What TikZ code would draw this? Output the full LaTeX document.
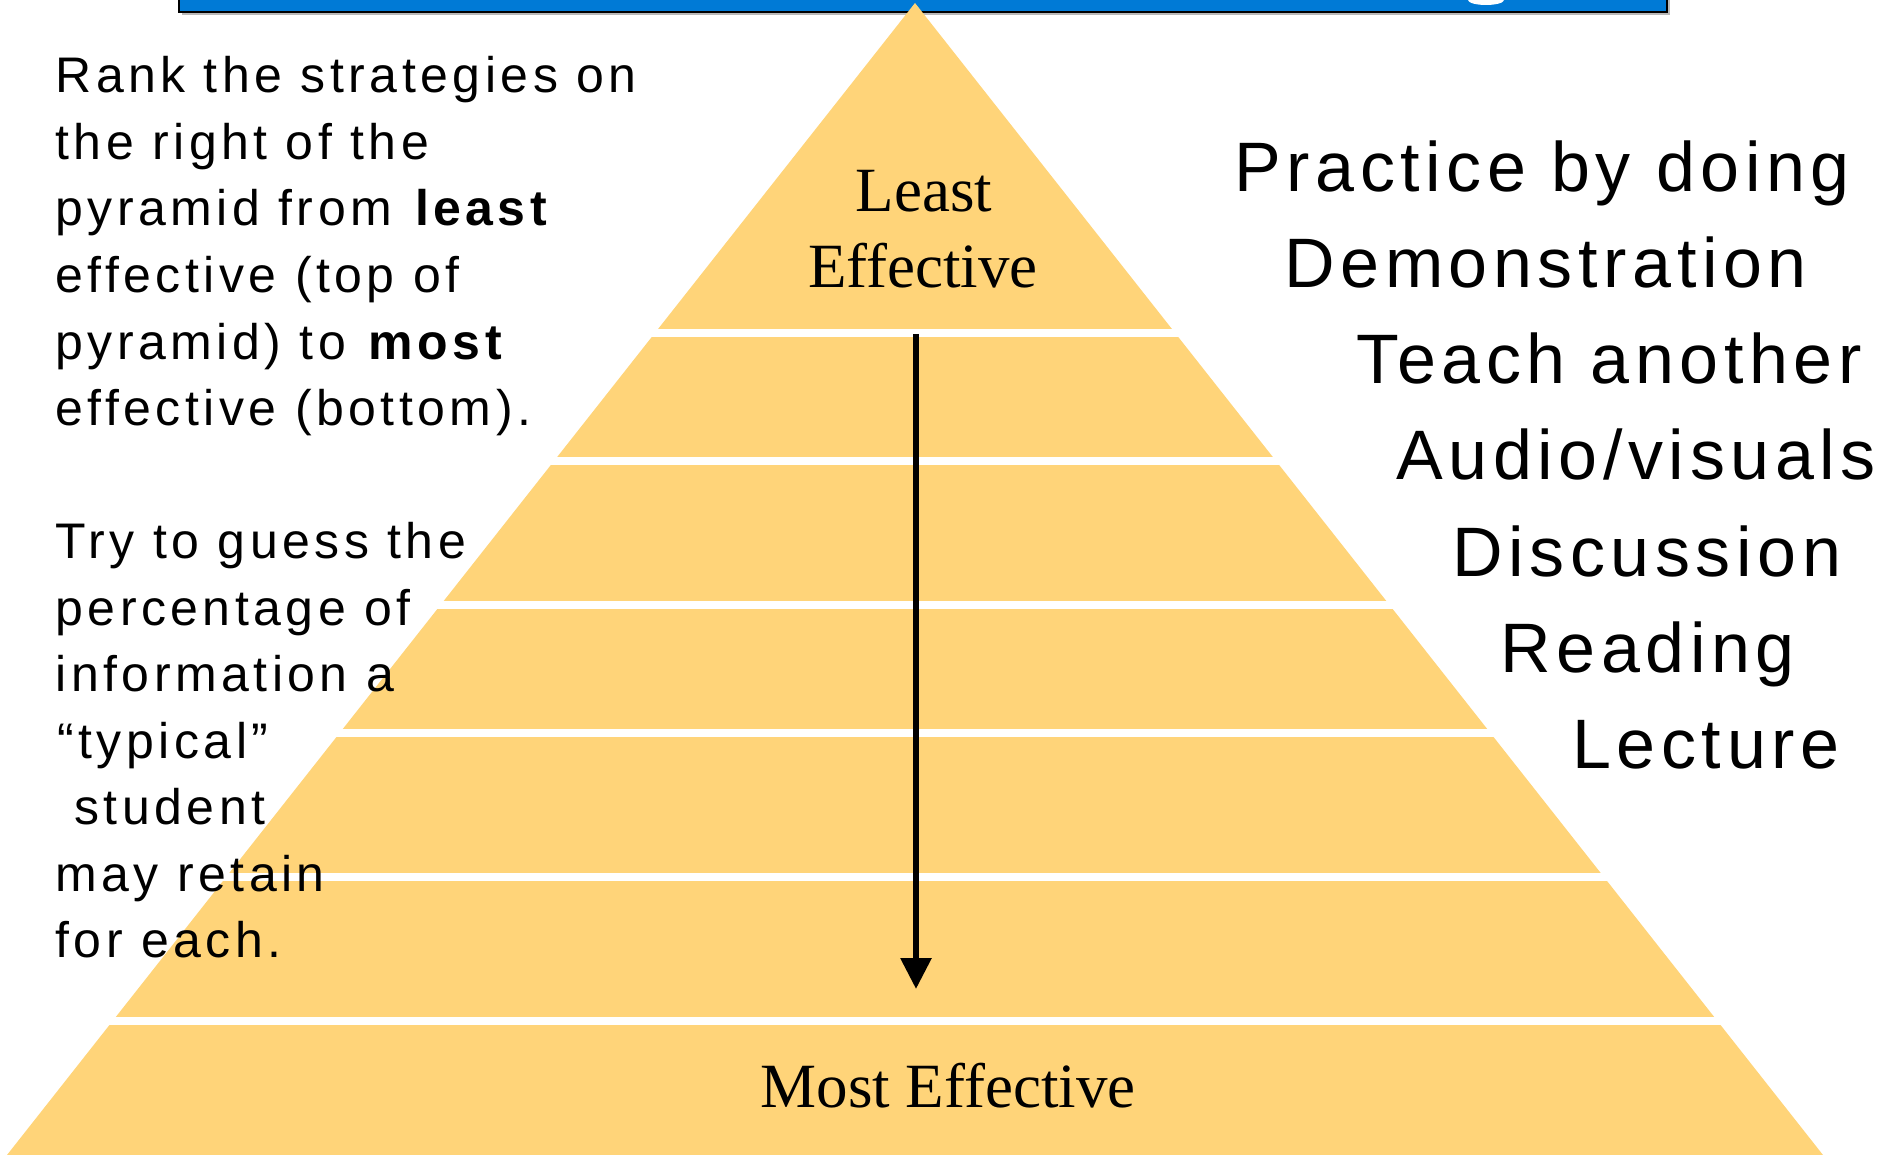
\documentclass[tikz,border=0pt]{standalone}
\usepackage{fontspec}
\setmainfont{Liberation Serif}
\newfontfamily\gothic[LetterSpace=8]{Liberation Sans}
\newfontfamily\gothicwide[LetterSpace=9]{Liberation Sans}
\usetikzlibrary{arrows.meta}
\definecolor{pyramidyellow}{RGB}{255,212,121}
\definecolor{titleblue}{RGB}{0,122,214}

\begin{document}
\begin{tikzpicture}[x=0.5pt,y=-0.5pt]
  \useasboundingbox (0,0) rectangle (1886,1155);
  \clip (0,0) rectangle (1886,1155);
  \tikzstyle{hint}=[anchor=base west, inner sep=0pt, font=\gothicwide\fontsize{25}{30}\selectfont]
  \tikzstyle{strategy}=[anchor=base west, inner sep=0pt, font=\gothic\fontsize{35}{42}\selectfont]
  \tikzstyle{level}=[anchor=base, inner sep=0pt, font=\fontsize{31.5}{38}\selectfont]
  \tikzstyle{gap}=[fill=white]

  % Titelbalken (oben abgeschnitten)
  \fill[gray!55] (182,-10) rectangle (1670,15);
  \filldraw[fill=titleblue, draw=black, line width=1pt] (179,-10) rectangle (1667,12);
  \fill[white] (1468,0) arc[start angle=180, end angle=0, x radius=18, y radius=5];

  % Pyramide
  \fill[pyramidyellow] (915,3) -- (7,1155) -- (1823,1155) -- cycle;
  \foreach \y in {329,457,601,729,873,1017}
    \fill[gap] (0,\y) rectangle (1886,\y+8);

  \node[level] (least)     at (924,212)  {Least};
  \node[level] (effective) at (923,288)  {Effective};
  \node[level] (most)      at (948,1107) {Most Effective};

  \coordinate (arrtop) at (916,334);
  \coordinate (arrtip) at (916,989);
  \draw[line width=3pt, -{Triangle[length=15.5pt, width=15pt]}] (arrtop) -- (arrtip);

  % Hinweise links
  \node[hint] (h1)  at (55,93)    {Rank the strategies on};
  \node[hint] (h2)  at (55,159.5) {the right of the};
  \node[hint] (h3)  at (55,226)   {pyramid from \textbf{least}};
  \node[hint] (h4)  at (55,292.5) {effective (top of};
  \node[hint] (h5)  at (55,359)   {pyramid) to \textbf{most}};
  \node[hint] (h6)  at (55,425.5) {effective (bottom).};
  \node[hint] (h7)  at (55,558.5) {Try to guess the};
  \node[hint] (h8)  at (55,625)   {percentage of};
  \node[hint] (h9)  at (55,691.5) {information a};
  \node[hint] (h10) at (57,758)   {“typical”};
  \node[hint] (h11) at (74,824.5) {student};
  \node[hint] (h12) at (55,891)   {may retain};
  \node[hint] (h13) at (55,957.5) {for each.};

  % Strategien rechts
  \node[strategy] (practice) at (1234,192) {Practice by doing};
  \node[strategy] (demo)     at (1284,288) {Demonstration};
  \node[strategy] (teach)    at (1356,384) {Teach another};
  \node[strategy] (audio)    at (1396,480) {Audio/visuals};
  \node[strategy] (discuss)  at (1452,576) {Discussion};
  \node[strategy] (reading)  at (1500,672) {Reading};
  \node[strategy] (lecture)  at (1572,768) {Lecture};
\end{tikzpicture}
\end{document}
